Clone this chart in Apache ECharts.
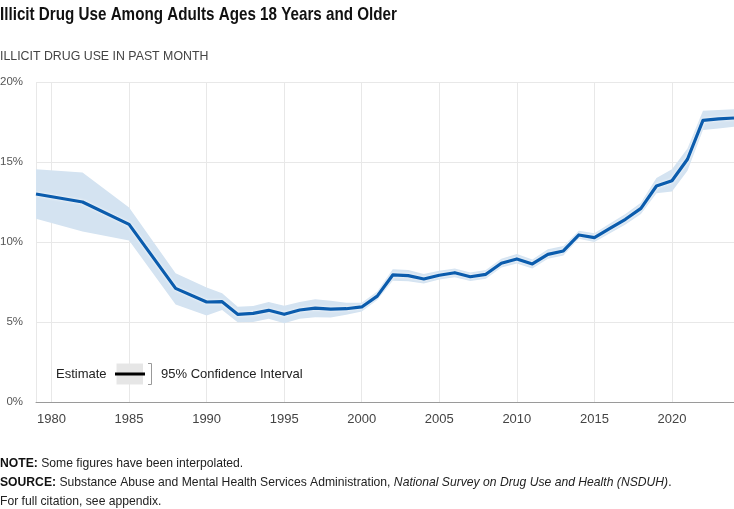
<!DOCTYPE html>
<html>
<head>
<meta charset="utf-8">
<script src="https://cdn.jsdelivr.net/npm/echarts@6/dist/echarts.min.js"></script>
<style>
  html, body { margin: 0; padding: 0; background: #fff; }
  #chart { width: 734px; height: 509px; }
</style>
</head>
<body>
<div id="chart"></div>
<script>
// survey years (gaps before 1990 are drawn as straight segments)
var years = [1979, 1982, 1985, 1988, 1990, 1991, 1992, 1993, 1994, 1995, 1996, 1997, 1998, 1999,
    2000, 2001, 2002, 2003, 2004, 2005, 2006, 2007, 2008, 2009, 2010, 2011, 2012, 2013, 2014,
    2015, 2016, 2017, 2018, 2019, 2020, 2021, 2022, 2023, 2024];
// percent of adults, past month
var estimate = [13.0, 12.5, 11.1, 7.1, 6.25, 6.27, 5.48, 5.54, 5.73, 5.48, 5.75, 5.87, 5.81, 5.83,
    5.94, 6.62, 7.94, 7.90, 7.69, 7.92, 8.08, 7.83, 7.98, 8.67, 8.94, 8.63, 9.23, 9.44, 10.44,
    10.27, 10.85, 11.42, 12.1, 13.5, 13.83, 15.17, 17.6, 17.69, 17.75];
var ciUpper = [14.55, 14.35, 12.15, 8.05, 7.15, 6.8, 5.95, 6.0, 6.25, 6.02, 6.25, 6.42, 6.33, 6.2,
    6.2, 6.9, 8.3, 8.25, 8.0, 8.2, 8.35, 8.1, 8.25, 8.95, 9.25, 8.9, 9.55, 9.75, 10.7,
    10.55, 11.15, 11.75, 12.45, 14.0, 14.55, 15.85, 18.2, 18.25, 18.3];
var ciLower = [11.45, 10.65, 10.1, 6.1, 5.4, 5.75, 4.98, 5.0, 5.2, 4.92, 5.2, 5.3, 5.28, 5.45,
    5.65, 6.38, 7.58, 7.55, 7.4, 7.65, 7.8, 7.57, 7.7, 8.4, 8.65, 8.35, 8.95, 9.15, 10.2,
    10.0, 10.55, 11.1, 11.75, 13.05, 13.15, 14.45, 17.0, 17.1, 17.2];
var xTicks = [1979, 1980, 1985, 1990, 1995, 2000, 2005, 2010, 2015, 2020];
var xLabels = [1980, 1985, 1990, 1995, 2000, 2005, 2010, 2015, 2020];

var FONT = '"Liberation Sans", Arial, sans-serif';

var ciData = [], estData = [];
for (var i = 0; i < years.length; i++) {
    ciData.push([years[i], ciLower[i], ciUpper[i]]);
    estData.push([years[i], estimate[i]]);
}

// 置信区间：整条带子画成一个多边形
function renderBand(params, api) {
    if (params.dataIndex !== 0) return;
    var pts = [];
    for (var k = 0; k < years.length; k++) {
        pts.push(api.coord([years[k], ciUpper[k]]));
    }
    for (var k = years.length - 1; k >= 0; k--) {
        pts.push(api.coord([years[k], ciLower[k]]));
    }
    return {
        type: 'polygon',
        shape: { points: pts },
        style: { fill: '#d4e3f1' }
    };
}

var oChart = echarts.init(document.getElementById('chart'));

var opt = {
    animation: false,
    textStyle: { fontFamily: FONT },
    grid: {
        left: 36,
        right: 0,
        top: 82,
        bottom: 107,
        outerBoundsMode: 'none'
    },
    xAxis: {
        type: 'value',
        min: 1979,
        max: 2024,
        axisLine: { show: true, lineStyle: { color: '#9a9a9a', width: 1 } },
        axisTick: { show: false, customValues: xTicks },
        axisLabel: {
            customValues: xLabels,
            margin: 11,
            color: '#444',
            fontSize: 13,
            fontFamily: FONT,
            formatter: function (v) { return String(v); }
        },
        splitLine: { show: true, lineStyle: { color: '#e8e8e8', width: 1 } }
    },
    yAxis: {
        type: 'value',
        min: 0,
        max: 20,
        interval: 5,
        axisLine: { show: false },
        axisTick: { show: false },
        axisLabel: {
            margin: 13,
            color: '#555',
            fontSize: 11.5,
            fontFamily: FONT,
            formatter: '{value}%'
        },
        splitLine: { lineStyle: { color: '#e8e8e8', width: 1 } }
    },
    series: [{
        name: '95% Confidence Interval',
        type: 'custom',
        renderItem: renderBand,
        data: ciData,
        encode: { x: 0, y: [1, 2] },
        silent: true,
        z: 2
    }, {
        name: 'Estimate',
        type: 'line',
        data: estData,
        symbol: 'none',
        lineStyle: {
            color: '#0b5cad',
            width: 3.2,
            join: 'round',
            shadowColor: 'rgba(255,255,255,0.95)',
            shadowBlur: 3
        },
        z: 5
    }],
    graphic: [
        {
            type: 'text', x: 0, y: 5, scaleX: 0.8,
            style: {
                text: 'Illicit Drug Use Among Adults Ages 18 Years and Older',
                font: 'bold 19px ' + FONT, fill: '#111', verticalAlign: 'top'
            }
        },
        {
            type: 'text', x: 0, y: 50, scaleX: 0.95,
            style: { text: 'ILLICIT DRUG USE IN PAST MONTH', font: '13px ' + FONT, fill: '#444', verticalAlign: 'top' }
        },
        { type: 'text', x: 56, y: 374, z: 100, style: { text: 'Estimate', fill: '#222', font: '13px ' + FONT, verticalAlign: 'middle' } },
        { type: 'rect', z: 100, shape: { x: 116.5, y: 363.5, width: 26.5, height: 21 }, style: { fill: '#e6e6e6' } },
        { type: 'line', z: 101, shape: { x1: 115, y1: 374, x2: 145, y2: 374 }, style: { stroke: '#000', lineWidth: 3 } },
        { type: 'polyline', z: 100, shape: { points: [[148, 363.5], [151.5, 363.5], [151.5, 384.5], [148, 384.5]] },
          style: { stroke: '#999', lineWidth: 1, fill: null } },
        { type: 'text', x: 161, y: 374, z: 100, style: { text: '95% Confidence Interval', fill: '#222', font: '13px ' + FONT, verticalAlign: 'middle' } },
        {
            type: 'text', x: 0, y: 454, scaleX: 0.935,
            style: {
                text: '{b|NOTE:} Some figures have been interpolated.\n' +
                    '{b|SOURCE:} Substance Abuse and Mental Health Services Administration, {i|National Survey on Drug Use and Health (NSDUH)}.\n' +
                    'For full citation, see appendix.',
                font: '13px ' + FONT,
                fill: '#222',
                lineHeight: 19,
                verticalAlign: 'top',
                rich: {
                    b: { fontWeight: 'bold', fontSize: 13, fontFamily: FONT, fill: '#111', lineHeight: 19 },
                    i: { fontStyle: 'italic', fontSize: 13, fontFamily: FONT, fill: '#222', lineHeight: 19 }
                }
            }
        }
    ]
};

oChart.setOption(opt);
</script>
</body>
</html>
